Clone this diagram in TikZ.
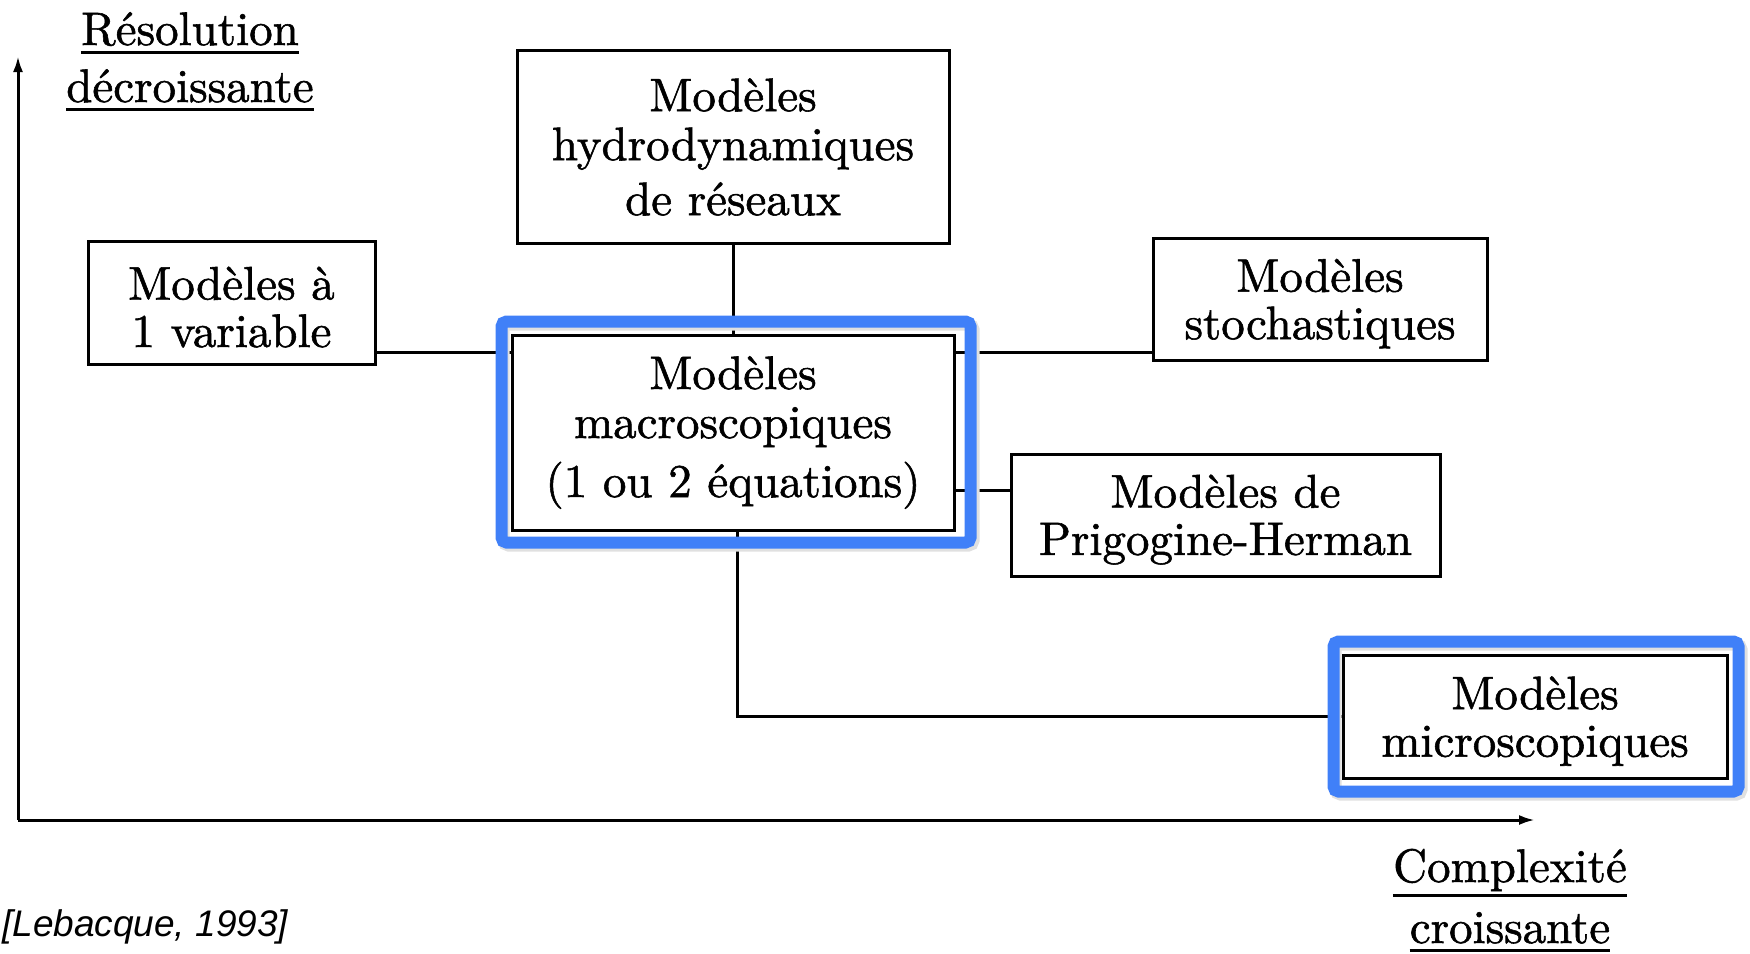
\documentclass[tikz,border=0pt]{standalone}
\usepackage{fontspec}
\newfontfamily\arialfont{Liberation Sans}
\newfontfamily\scanfont{lmroman10-regular}[Extension=.otf, FakeBold=1.2]
\usetikzlibrary{arrows.meta}
\definecolor{hlblue}{RGB}{64,128,248}
\newcommand{\topstrut}{\rule{0pt}{42pt}}
\begin{document}
\begin{tikzpicture}[x=1pt,y=-1pt,
  mbox/.style={draw, line width=3pt, align=center, inner sep=0pt, font=\scanfont\fontsize{47}{49}\selectfont},
  tbox/.style={mbox, font=\scanfont\fontsize{47}{47.5}\selectfont},
  conn/.style={line width=3pt},
  axisline/.style={line width=3pt, -{Latex[length=16pt,width=10pt]}},
  lbl/.style={inner sep=0pt, anchor=base, font=\scanfont\fontsize{47}{49}\selectfont},
  uline/.style={line width=3pt},
  hl/.style={draw=hlblue, line width=12pt, rounded corners=5pt},
  hlshadow/.style={draw=black!12, line width=12pt, rounded corners=5pt}]
\useasboundingbox (0,0) rectangle (1750,953);

% boxes
\node[mbox, minimum width=432pt, minimum height=193pt] (hydro) at (733,147) {Modèles\\hydrodynamiques\\[6pt]de réseaux};
\node[tbox, minimum width=287pt, minimum height=123pt] (var) at (231.5,302.5) {\topstrut Modèles à\\1 variable};
\node[mbox, minimum width=442pt, minimum height=195pt] (macro) at (733,432.5) {Modèles\\macroscopiques\\[10pt](1 ou 2 équations)};
\node[tbox, minimum width=334pt, minimum height=122pt] (stoch) at (1320,299) {\topstrut Modèles\\stochastiques};
\node[tbox, minimum width=429pt, minimum height=122pt] (prig) at (1225.5,515) {\topstrut Modèles de\\Prigogine-Herman};
\node[tbox, minimum width=384pt, minimum height=123pt] (micro) at (1535,716.5) {\topstrut Modèles\\microscopiques};

% connector levels
\coordinate (yA) at (0,352);
\coordinate (yB) at (0,490);
\coordinate (xC) at (737,0);

\draw[conn] (hydro.south) -- (macro.north);
\draw[conn] (var.east |- yA) -- (macro.west |- yA);
\draw[conn] (macro.east |- yA) -- (stoch.west |- yA);
\draw[conn] (macro.east |- yB) -- (prig.west |- yB);
\draw[conn] (xC |- macro.south) |- (micro.west);

% highlight frames
\draw[hlshadow] ([shift={(-7,-9)}]macro.north west) rectangle ([shift={(18,14)}]macro.south east);
\draw[hl] ([shift={(-9,-12)}]macro.north west) rectangle ([shift={(15,11)}]macro.south east);
\draw[hlshadow] ([shift={(-6,-9)}]micro.north west) rectangle ([shift={(13,15)}]micro.south east);
\draw[hl] ([shift={(-8,-12)}]micro.north west) rectangle ([shift={(10,12)}]micro.south east);

% axes
\coordinate (O) at (18,820);
\coordinate (ytip) at (18,56);
\coordinate (xtip) at (1535,820);
\draw[axisline] (O) -- (ytip);
\draw[axisline] (O) -- (xtip);

% axis labels
\node[lbl] (res1) at (190,45) {Résolution};
\node[lbl] (res2) at (190,102) {décroissante};
\draw[uline] ([yshift=-7pt]res1.base west) -- ([yshift=-7pt]res1.base east);
\draw[uline] ([yshift=-7pt]res2.base west) -- ([yshift=-7pt]res2.base east);

\node[lbl] (cx1) at (1510,882) {Complexité};
\node[lbl] (cx2) at (1510,943) {croissante};
\draw[uline] ([yshift=-13pt]cx1.base west) -- ([yshift=-13pt]cx1.base east);
\draw[uline] ([yshift=-7pt]cx2.base west) -- ([yshift=-7pt]cx2.base east);

% citation
\node[inner sep=0pt, anchor=base west, font=\arialfont\itshape\fontsize{37}{40}\selectfont] (cite) at (2,936) {[Lebacque, 1993]};
\end{tikzpicture}
\end{document}
